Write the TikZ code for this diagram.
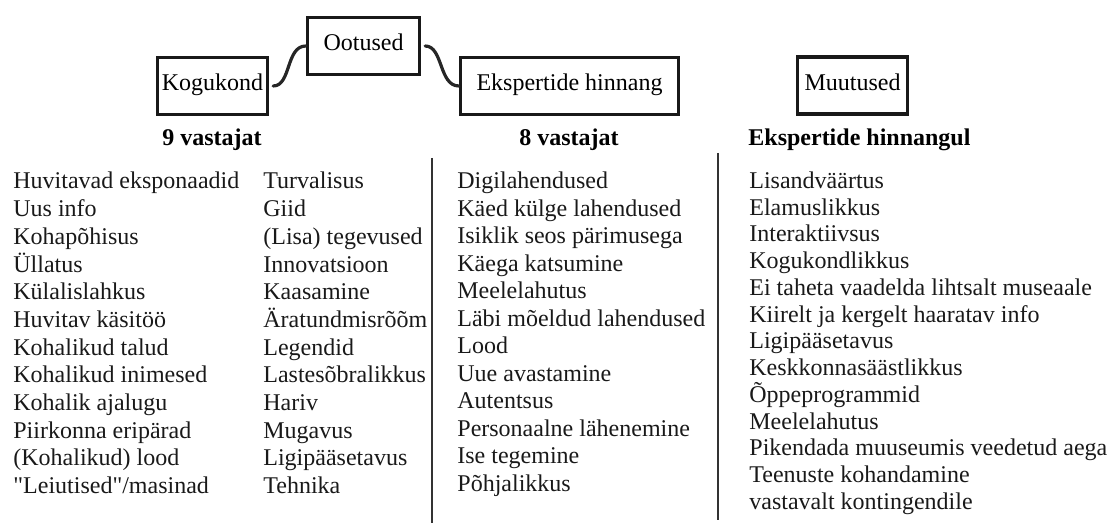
\documentclass[tikz,border=0pt]{standalone}
\usepackage{fontspec}
\setmainfont{Liberation Serif}[Ligatures=TeXOff]
\begin{document}
\begin{tikzpicture}[x=0.5pt,y=-0.5pt,
  box/.style={draw=black!90, line width=1.7pt, inner sep=0pt,
    font=\fontsize{12}{14}\selectfont, text height=0.7em, text depth=0.2em,
    minimum height=28.5pt},
  conn/.style={line width=1.6pt, draw=black!85, line cap=round},
  head/.style={font=\fontsize{12}{14}\selectfont\bfseries, anchor=base, inner sep=0pt},
  item/.style={font=\fontsize{12}{14}\selectfont, anchor=base west, inner sep=0pt, text=black!90},
  sep/.style={line width=1pt, draw=black!80}]
\useasboundingbox (0,0) rectangle (1114,523);

% top boxes
\node[box, minimum width=55pt]  (kog) at (212.5,86)  {Kogukond};
\node[box, minimum width=56pt]  (oot) at (363.5,46)  {Ootused};
\node[box, minimum width=109pt] (eks) at (569.5,86)  {Ekspertide hinnang};
\node[box, minimum width=55pt]  (muu) at (852.5,85.5) {Muutused};

% S-shaped links between the boxes
\draw[conn, shorten <=2pt] (kog.east) .. controls +(22,0) and +(-20,0) .. (oot.west);
\draw[conn, shorten <=2pt] (oot.east) .. controls +(22,0) and +(-20,0) .. (eks.west);

% column headings
\node[head] (h1) at (212,146) {9 vastajat};
\node[head] (h2) at (569,146) {8 vastajat};
\node[head, anchor=base west] (h3) at (748,146) {Ekspertide hinnangul};

% column separators
\coordinate (s1t) at (432,158);
\coordinate (s1b) at (432,523);
\coordinate (s2t) at (718,153);
\coordinate (s2b) at (718,520);
\draw[sep] (s1t) -- (s1b);
\draw[sep] (s2t) -- (s2b);

% lists
\foreach \t [count=\i] in {Huvitavad eksponaadid, Uus info, Kohapõhisus, Üllatus,
  Külalislahkus, Huvitav käsitöö, Kohalikud talud, Kohalikud inimesed,
  Kohalik ajalugu, Piirkonna eripärad, (Kohalikud) lood, "Leiutised"/masinad}
  \node[item] (a\i) at (13,189+27.7*\i-27.7) {\t};

\foreach \t [count=\i] in {Turvalisus, Giid, (Lisa) tegevused, Innovatsioon,
  Kaasamine, Äratundmisrõõm, Legendid, Lastesõbralikkus, Hariv, Mugavus,
  Ligipääsetavus, Tehnika}
  \node[item] (b\i) at (263,189+27.7*\i-27.7) {\t};

\foreach \t [count=\i] in {Digilahendused, Käed külge lahendused,
  Isiklik seos pärimusega, Käega katsumine, Meelelahutus,
  Läbi mõeldud lahendused, Lood, Uue avastamine, Autentsus,
  Personaalne lähenemine, Ise tegemine, Põhjalikkus}
  \node[item] (c\i) at (457,189+27.5*\i-27.5) {\t};

\foreach \t [count=\i] in {Lisandväärtus, Elamuslikkus, Interaktiivsus,
  Kogukondlikkus, Ei taheta vaadelda lihtsalt museaale,
  Kiirelt ja kergelt haaratav info, Ligipääsetavus, Keskkonnasäästlikkus,
  Õppeprogrammid, Meelelahutus, Pikendada muuseumis veedetud aega,
  Teenuste kohandamine, vastavalt kontingendile}
  \node[item] (d\i) at (749,188.5+26.75*\i-26.75) {\t};
\end{tikzpicture}
\end{document}
